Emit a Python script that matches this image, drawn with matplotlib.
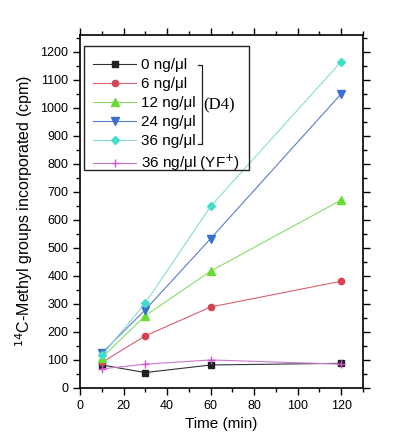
import matplotlib
matplotlib.use("Agg")
import matplotlib.pyplot as plt
from matplotlib.patches import Rectangle

plt.rcParams['font.family'] = ['Liberation Sans', 'DejaVu Sans']

time = [10, 30, 60, 120]
labels = ["0 ng/\u03bcl", "6 ng/\u03bcl", "12 ng/\u03bcl", "24 ng/\u03bcl", "36 ng/\u03bcl", "36 ng/\u03bcl (YF$^{+}$)"]
values = [
    [82, 55, 82, 88],
    [91, 186, 289, 381],
    [108, 258, 417, 671],
    [124, 279, 533, 1050],
    [116, 303, 648, 1165],
    [68, 85, 100, 85],
]
markers = ["s", "o", "^", "v", "D", "+"]
mcolors = ["#222222", "#d9434f", "#66dd33", "#3a6fd0", "#44ddcc", "#cc55cc"]
lcolors = ["#333333", "#d86070", "#88dd66", "#5a7ec8", "#88ddd5", "#cc77cc"]
msizes = [4, 4.5, 5.5, 5.5, 4, 6]

fig = plt.figure(figsize=(4, 4.48), dpi=100)
ax = fig.add_axes([0.2, 0.134, 0.7075, 0.788])

handles = []
for v, lab, m, mc, lc, ms in zip(values, labels, markers, mcolors, lcolors, msizes):
    h, = ax.plot(time, v, color=lc, lw=0.8, marker=m, markersize=ms,
                 markerfacecolor=mc, markeredgecolor=mc, label=lab)
    handles.append(h)

ax.set_xlim(0, 130)
ax.set_ylim(0, 1260)
ax.set_xticks(range(0, 121, 20))
ax.set_xticks(range(0, 131, 10), minor=True)
ax.set_yticks(range(0, 1201, 100))
ax.set_yticks(range(0, 1251, 50), minor=True)
ax.tick_params(axis='both', which='major', labelsize=9, length=5, width=1, direction='out')
ax.tick_params(axis='both', which='minor', length=3, width=1, direction='out')
ax.tick_params(top=True, right=True, which='both')
for s in ax.spines.values():
    s.set_linewidth(1.2)

ax.set_xlabel("Time (min)", fontsize=11)
ax.set_ylabel("$^{14}$C-Methyl groups incorporated (cpm)", fontsize=11.5)

leg = ax.legend(handles=handles, loc='upper left', bbox_to_anchor=(0.02, 0.955),
                frameon=False, fontsize=11, handlelength=2.8, handletextpad=0.3,
                labelspacing=0.32, borderaxespad=0.2, borderpad=0.3)

# frame around legend incl. bracket
ax.add_patch(Rectangle((0.014, 0.618), 0.583, 0.351, transform=ax.transAxes,
                       fill=False, edgecolor='#222222', lw=1.0, zorder=5))
# bracket
bx = 0.432
ax.plot([bx - 0.015, bx, bx, bx - 0.015], [0.915, 0.915, 0.69, 0.69],
        transform=ax.transAxes, color='#222222', lw=0.9, zorder=6)
ax.text(bx + 0.004, 0.80, "(D4)", transform=ax.transAxes, fontsize=12,
        family='Liberation Serif', va='center', ha='left', zorder=6)

fig.savefig("out.png", dpi=100)
